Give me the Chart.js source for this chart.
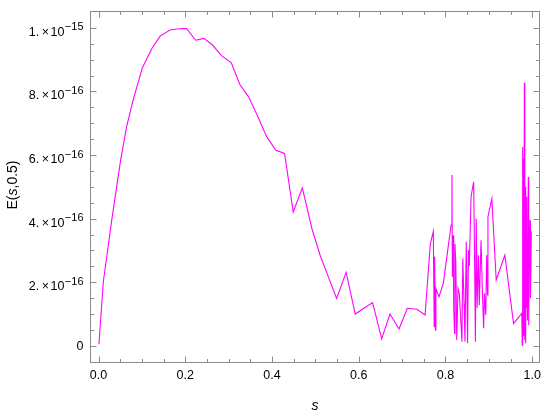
<!DOCTYPE html>
<html><head><meta charset="utf-8">
<script src="https://cdn.jsdelivr.net/npm/chart.js@4/dist/chart.umd.min.js"></script>
<style>html,body{margin:0;padding:0;background:#fff;}#wrap{width:550px;height:416px;}</style>
</head><body><div id="wrap"><canvas id="c" width="550" height="416"></canvas></div>
<script>
const sValues = [0.001,0.011,0.031,0.051,0.065,0.079,0.101,0.123,0.142,0.165,0.185,0.203,0.224,0.243,0.263,0.284,0.306,0.326,0.346,0.366,0.388,0.409,0.429,0.449,0.470,0.492,0.511,0.530,0.549,0.571,0.592,0.612,0.632,0.653,0.672,0.693,0.712,0.734,0.753,0.765,0.772,0.774,0.775,0.777,0.778,0.785,0.795,0.813,0.815,0.816,0.818,0.819,0.821,0.822,0.824,0.826,0.829,0.832,0.835,0.838,0.840,0.843,0.845,0.848,0.851,0.853,0.855,0.859,0.865,0.867,0.869,0.871,0.873,0.876,0.878,0.882,0.885,0.888,0.890,0.893,0.895,0.897,0.898,0.907,0.917,0.937,0.957,0.976,0.977,0.978,0.979,0.980,0.981,0.982,0.983,0.984,0.985,0.986,0.987,0.988,0.989,0.991,0.992,0.993,0.995,0.996,0.998];
const eValues = [0.05e-16,2.0e-16,4.0e-16,5.84e-16,6.9e-16,7.69e-16,8.74e-16,9.35e-16,9.74e-16,9.93e-16,9.97e-16,9.98e-16,9.61e-16,9.67e-16,9.46e-16,9.12e-16,8.91e-16,8.22e-16,7.83e-16,7.25e-16,6.57e-16,6.15e-16,6.05e-16,4.21e-16,4.97e-16,3.69e-16,2.85e-16,2.17e-16,1.49e-16,2.31e-16,1.0e-16,1.18e-16,1.36e-16,0.22e-16,1.0e-16,0.53e-16,1.18e-16,1.15e-16,0.97e-16,3.19e-16,3.6e-16,0.6e-16,2.8e-16,0.5e-16,1.8e-16,1.54e-16,1.96e-16,3.8e-16,5.37e-16,2.17e-16,3.48e-16,1.2e-16,0.39e-16,3.2e-16,2.54e-16,0.18e-16,1.8e-16,1.65e-16,0.9e-16,0.13e-16,2.75e-16,1.33e-16,0.13e-16,3.27e-16,0.08e-16,3.01e-16,2.5e-16,4.69e-16,5.16e-16,3.0e-16,0.13e-16,4.0e-16,1.2e-16,2.85e-16,1.28e-16,3.32e-16,1.8e-16,0.55e-16,1.65e-16,0.97e-16,2.85e-16,1.6e-16,4.06e-16,4.63e-16,2.07e-16,2.85e-16,0.70e-16,1.02e-16,0.02e-16,6.25e-16,0.5e-16,5.9e-16,0.3e-16,8.27e-16,0.18e-16,5.0e-16,0.08e-16,4.69e-16,1.2e-16,3.5e-16,0.8e-16,5.31e-16,0.65e-16,2.5e-16,3.95e-16,1.5e-16,3.6e-16];
const xTickValues = [0,0.2,0.4,0.6,0.8,1.0];
const xTickLabels = ['0.0','0.2','0.4','0.6','0.8','1.0'];
const xMinorValues = [0.05,0.1,0.15,0.25,0.3,0.35,0.45,0.5,0.55,0.65,0.7,0.75,0.85,0.9,0.95];
const yTickValues = [0,2e-16,4e-16,6e-16,8e-16,1e-15];
// mantissa and exponent of each y tick label ("" exponent = plain label)
const yTickMantissas = ['0','2.','4.','6.','8.','1.'];
const yTickExponents = ['','\u221216','\u221216','\u221216','\u221216','\u221215'];
const yMinorValues = [0.5e-16,1e-16,1.5e-16,2.5e-16,3e-16,3.5e-16,4.5e-16,5e-16,5.5e-16,6.5e-16,7e-16,7.5e-16,8.5e-16,9e-16,9.5e-16];
const xTitle = 's';
const yTitleParts = [['E(', false], ['s', true], [',0.5)', false]];

const FONT = "'Liberation Sans', Arial, sans-serif";

const framePlugin = {
  id: 'frame',
  afterDraw(chart) {
    const ctx = chart.ctx, a = chart.chartArea;
    const xs = chart.scales.x, ys = chart.scales.y;
    ctx.save();
    ctx.strokeStyle = '#8c8c8c';
    ctx.lineWidth = 1;
    const L = Math.round(a.left) + 0.5, R = Math.round(a.right) - 0.5;
    const T = Math.round(a.top) + 0.5, B = Math.round(a.bottom) - 0.5;
    ctx.strokeRect(L, T, R - L, B - T);
    ctx.beginPath();
    const tickX = (v, len) => {
      const p = Math.round(xs.getPixelForValue(v)) + 0.5;
      ctx.moveTo(p, B); ctx.lineTo(p, B - len);
      ctx.moveTo(p, T); ctx.lineTo(p, T + len);
    };
    const tickY = (v, len) => {
      const p = Math.round(ys.getPixelForValue(v)) + 0.5;
      ctx.moveTo(L, p); ctx.lineTo(L + len, p);
      ctx.moveTo(R, p); ctx.lineTo(R - len, p);
    };
    xTickValues.forEach(v => tickX(v, 6));
    xMinorValues.forEach(v => tickX(v, 3.5));
    yTickValues.forEach(v => tickY(v, 6));
    yMinorValues.forEach(v => tickY(v, 3.5));
    ctx.stroke();

    // y tick labels with real superscripts
    ctx.fillStyle = '#000';
    ctx.textAlign = 'left';
    ctx.textBaseline = 'alphabetic';
    const rightEdge = a.left - 6.5;
    yTickValues.forEach((v, i) => {
      const py = ys.getPixelForValue(v);
      const m = yTickMantissas[i], e = yTickExponents[i];
      if (!e) {
        ctx.font = '12.5px ' + FONT;
        const w = ctx.measureText(m).width;
        ctx.fillText(m, rightEdge - w, py + 4.5);
        return;
      }
      ctx.font = '11px ' + FONT;
      const we = ctx.measureText(e).width;
      ctx.font = '12.5px ' + FONT;
      const wm = ctx.measureText(m).width, wx = ctx.measureText('\u00d7').width, wt = ctx.measureText('10').width;
      const total = wm + 2.5 + wx + 1.5 + wt + 0.5 + we;
      let x = rightEdge - total;
      const base = py + 8;
      ctx.fillText(m, x, base); x += wm + 2.5;
      ctx.fillText('\u00d7', x, base); x += wx + 1.5;
      ctx.fillText('10', x, base); x += wt + 0.5;
      ctx.font = '11px ' + FONT;
      ctx.fillText(e, x, base - 5.5);
    });

    ctx.textBaseline = 'middle';
    ctx.font = 'italic 14px ' + FONT;
    ctx.textAlign = 'center';
    ctx.fillText(xTitle, (a.left + a.right) / 2, 406);

    ctx.translate(13, (a.top + a.bottom) / 2 - 2);
    ctx.rotate(-Math.PI / 2);
    let total = 0;
    yTitleParts.forEach(([t, it]) => { ctx.font = (it ? 'italic ' : '') + '14px ' + FONT; total += ctx.measureText(t).width; });
    let x = -total / 2;
    ctx.textAlign = 'left';
    yTitleParts.forEach(([t, it]) => { ctx.font = (it ? 'italic ' : '') + '14px ' + FONT; ctx.fillText(t, x, 0); x += ctx.measureText(t).width; });
    ctx.restore();
  }
};

new Chart(document.getElementById('c').getContext('2d'), {
  type: 'line',
  data: { datasets: [{ data: sValues.map((s, i) => ({ x: s, y: eValues[i] })), borderColor: '#ff00ff', borderWidth: 1.1, pointRadius: 0, tension: 0, fill: false }] },
  options: {
    responsive: false, animation: false, devicePixelRatio: 1,
    layout: { padding: { top: 11, right: 10, left: 0, bottom: 0 } },
    plugins: { legend: { display: false }, tooltip: { enabled: false } },
    scales: {
      x: {
        type: 'linear', min: -0.0196, max: 1.018,
        grid: { display: false }, border: { display: false },
        afterBuildTicks: s => { s.ticks = xTickValues.map(v => ({ value: v })); },
        afterFit: s => { s.height = 53; },
        ticks: { callback: (v, i) => xTickLabels[i], font: { family: FONT, size: 12.5 }, color: '#000', padding: -3, maxRotation: 0, autoSkip: false }
      },
      y: {
        type: 'linear', min: -0.54e-16, max: 10.53e-16,
        grid: { display: false }, border: { display: false },
        afterBuildTicks: s => { s.ticks = yTickValues.map(v => ({ value: v })); },
        afterFit: s => { s.width = 90; },
        ticks: { display: false }
      }
    }
  },
  plugins: [framePlugin]
});
</script></body></html>
